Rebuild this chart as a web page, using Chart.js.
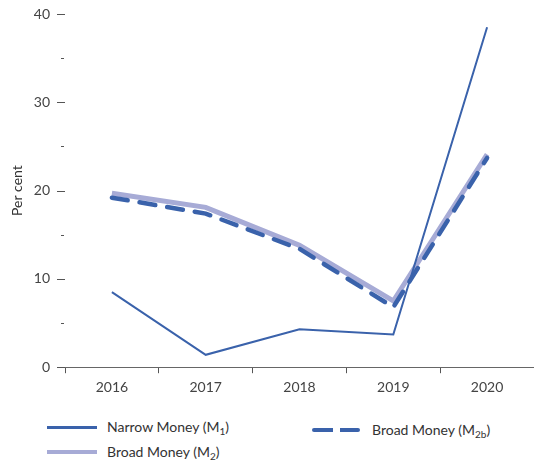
<!DOCTYPE html>
<html>
<head>
<meta charset="utf-8">
<script src="https://cdn.jsdelivr.net/npm/chart.js@4.4.1/dist/chart.umd.min.js"></script>
<style>
  html, body { margin: 0; padding: 0; background: #fff; }
  #wrap { position: relative; width: 534px; height: 466px; font-family: Lato, "Open Sans", sans-serif; color: #333; }
  #chart { position: absolute; left: 0; top: 0; }
  .item { position: absolute; font-size: 14px; white-space: nowrap; }
  .item .swatch { position: absolute; left: 0; width: 50px; }
  .item span.txt { position: absolute; left: 60px; top: -9px; }
  sub { font-size: 10px; vertical-align: -3px; line-height: 0; }
</style>
</head>
<body>
<div id="wrap">
  <canvas id="chart" width="534" height="407"></canvas>
  <div class="item" style="left:47px; top:427px;">
    <div class="swatch" style="top:-1.5px; border-top:3px solid #3a62ab;"></div>
    <span class="txt">Narrow Money (M<sub>1</sub>)</span>
  </div>
  <div class="item" style="left:47px; top:452px;">
    <div class="swatch" style="top:-2px; border-top:4px solid #a7abd6;"></div>
    <span class="txt">Broad Money (M<sub>2</sub>)</span>
  </div>
  <div class="item" style="left:312px; top:430px;">
    <div class="swatch" style="top:-2px; height:4px; width:48px; background:linear-gradient(to right, #3a62ab 0 21px, transparent 21px 28px, #3a62ab 28px 48px); border-radius:2px;"></div>
    <span class="txt">Broad Money (M<sub>2b</sub>)</span>
  </div>
</div>
<script>
const years = ['2016', '2017', '2018', '2019', '2020'];
const narrowM1 = [8.5, 1.4, 4.3, 3.7, 38.5];
const broadM2 = [19.7, 18.1, 13.8, 7.5, 24.1];
const broadM2b = [19.2, 17.4, 13.4, 6.8, 23.7];
const yMajorTicks = [0, 10, 20, 30, 40];

const fontFamily = 'Lato, "Open Sans", sans-serif';

// draws the short y tick dashes: long at labelled values, short between
const yDashes = {
  id: 'yDashes',
  afterDraw(chart) {
    const y = chart.scales.y;
    const ctx = chart.ctx;
    ctx.save();
    ctx.strokeStyle = '#555';
    ctx.lineWidth = 1;
    for (let v = 0; v <= 40; v += 5) {
      const py = Math.round(y.getPixelForValue(v)) + 0.5;
      const major = yMajorTicks.includes(v);
      ctx.beginPath();
      ctx.moveTo(major ? 57 : 61, py);
      ctx.lineTo(major ? 65 : 64, py);
      ctx.stroke();
    }
    ctx.restore();
  }
};

new Chart(document.getElementById('chart').getContext('2d'), {
  type: 'line',
  data: {
    labels: years,
    datasets: [
      {
        label: 'Broad Money (M2)',
        data: broadM2,
        borderColor: '#a7abd6',
        borderWidth: 5,
        pointRadius: 0,
        tension: 0,
        order: 3
      },
      {
        label: 'Broad Money (M2b)',
        data: broadM2b,
        borderColor: '#3a62ab',
        borderWidth: 4.5,
        borderDash: [16, 12],
        borderCapStyle: 'round',
        pointRadius: 0,
        tension: 0,
        order: 2
      },
      {
        label: 'Narrow Money (M1)',
        data: narrowM1,
        borderColor: '#3a62ab',
        borderWidth: 2,
        pointRadius: 0,
        tension: 0,
        order: 1
      }
    ]
  },
  plugins: [yDashes],
  options: {
    responsive: false,
    animation: false,
    layout: { padding: { top: 14, right: 0, bottom: 5, left: 0 } },
    plugins: {
      legend: { display: false },
      tooltip: { enabled: false }
    },
    scales: {
      x: {
        offset: true,
        grid: {
          offset: true,
          drawOnChartArea: false,
          drawTicks: true,
          tickLength: 6,
          color: '#555'
        },
        border: { display: true, color: '#666', width: 1 },
        ticks: {
          padding: 6,
          color: '#444',
          font: { family: fontFamily, size: 14 }
        }
      },
      y: {
        min: 0,
        max: 40,
        afterFit: s => { s.width = 65; s.paddingTop = 0; s.paddingBottom = 0; },
        grid: { display: false, drawTicks: false },
        border: { display: false },
        title: {
          display: true,
          text: 'Per cent',
          color: '#333',
          padding: { top: 9, bottom: 0 },
          font: { family: fontFamily, size: 14 }
        },
        ticks: {
          stepSize: 10,
          padding: 15,
          color: '#444',
          font: { family: fontFamily, size: 14 }
        }
      }
    }
  }
});
</script>
</body>
</html>
